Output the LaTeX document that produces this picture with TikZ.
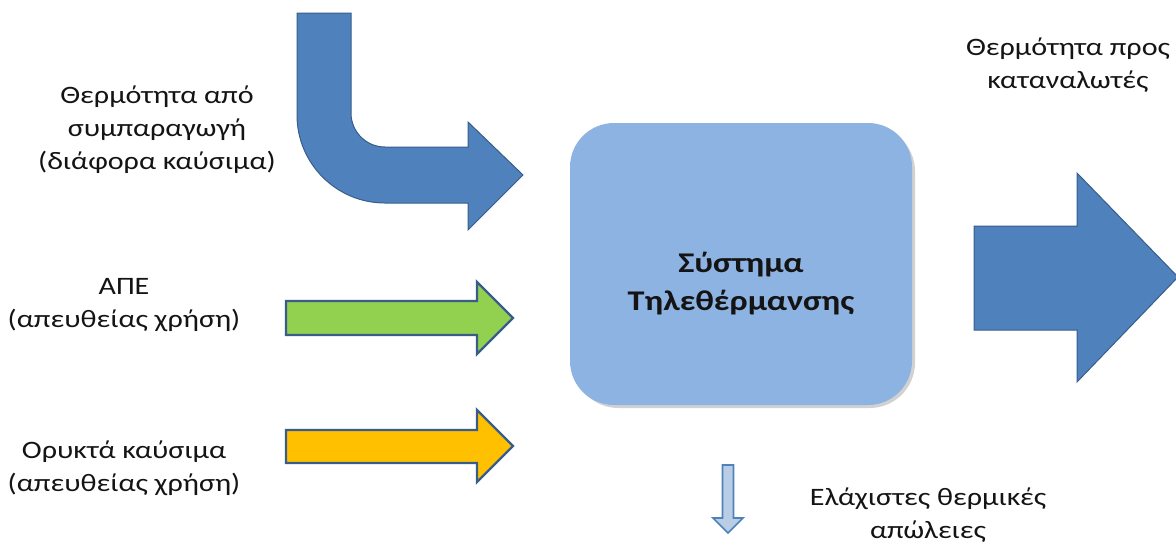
\documentclass[tikz,border=0pt]{standalone}
\usepackage{fontspec}
\setmainfont{Carlito}[FakeStretch=1.2]
\usepackage{tikz}

\tikzset{
  lbl/.style={anchor=center, inner sep=0.75pt, align=center, text={rgb, 255:red, 20; green, 20; blue, 20 }, font=\fontsize{18.8}{24.75}\selectfont},
  bluearrow/.style={draw={rgb, 255:red, 56; green, 93; blue, 138 }, fill={rgb, 255:red, 79; green, 129; blue, 189 }, line width=0.75},
  inarrow/.style={draw={rgb, 255:red, 56; green, 93; blue, 138 }, line width=1.8, line join=miter}
}

\begin{document}
\begin{tikzpicture}[x=0.75pt,y=0.75pt,yscale=-1,xscale=1]
    \useasboundingbox (0,0) rectangle (1176,547);

    %Bent Arrow [id:cogeneration]
    \draw [bluearrow]  (297,13) -- (351,13) -- (351,113) .. controls (351,131.8) and (366.2,147) .. (385,147) -- (468,147) -- (468,122) -- (523,175) -- (468,230) -- (468,203) -- (385,203) .. controls (336.4,203) and (297,163.6) .. (297,115) -- cycle ;
    %Right Arrow [id:renewables]
    \draw [inarrow, fill={rgb, 255:red, 146; green, 208; blue, 80 }]  (286,301) -- (477,301) -- (477,282) -- (513,318) -- (477,354) -- (477,335) -- (286,335) -- cycle ;
    %Right Arrow [id:fossil]
    \draw [inarrow, fill={rgb, 255:red, 255; green, 192; blue, 0 }]  (286,430) -- (477,430) -- (477,410) -- (513,446) -- (477,482) -- (477,463) -- (286,463) -- cycle ;

    %Rounded Rect [id:system] (shadow first)
    \fill [black, opacity=0.18, rounded corners=34]  (573,126) rectangle (915,408) ;
    \node (sys) at (741,264) [fill={rgb, 255:red, 141; green, 179; blue, 226 }, rounded corners=33, minimum width=256.5pt, minimum height=211.5pt, inner sep=0pt] {};

    %Right Arrow [id:consumers]
    \draw [bluearrow]  (974,226) -- (1077,226) -- (1077,173) -- (1178,277) -- (1077,382) -- (1077,330) -- (974,330) -- cycle ;
    %Down Arrow [id:losses]
    \draw [draw={rgb, 255:red, 79; green, 129; blue, 189 }, fill={rgb, 255:red, 185; green, 205; blue, 229 }, line width=1.2]  (722.5,465) -- (733.5,465) -- (733.5,518) -- (743,518) -- (728,533) -- (713,518) -- (722.5,518) -- cycle ;

    % Text Node
    \draw (741,284) node [lbl, font=\fontsize{21.4}{28.5}\selectfont\bfseries] (systxt) {Σύστημα\\Τηλεθέρμανσης};
    % Text Node
    \draw (157,130) node [lbl] (cogen) {Θερμότητα από\\συμπαραγωγή\\(διάφορα καύσιμα)};
    % Text Node
    \draw (124,305) node [lbl] (res) {ΑΠΕ\\(απευθείας χρήση)};
    % Text Node
    \draw (124,468) node [lbl] (fossiltxt) {Ορυκτά καύσιμα\\(απευθείας χρήση)};
    % Text Node
    \draw (1068,65) node [lbl] (heatout) {Θερμότητα προς\\καταναλωτές};
    % Text Node
    \draw (928,515) node [lbl] (loss) {Ελάχιστες θερμικές\\απώλειες};

\end{tikzpicture}
\end{document}
